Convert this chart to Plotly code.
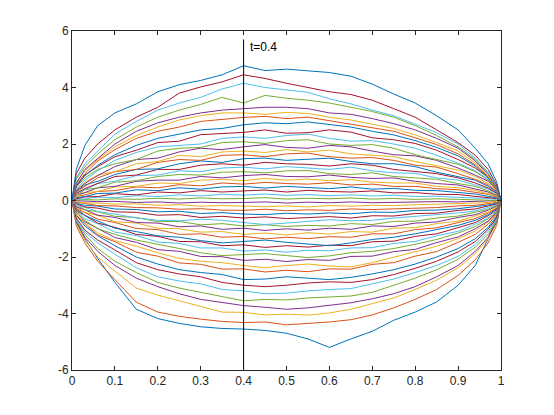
import plotly.graph_objects as go

# time grid shared by all paths
t = [0, 0.01, 0.03, 0.06, 0.1, 0.15, 0.2, 0.25, 0.3, 0.35, 0.4, 0.45, 0.5,
     0.55, 0.6, 0.65, 0.7, 0.75, 0.8, 0.85, 0.9, 0.94, 0.97, 0.99, 1]

# paths, bottom (p01) to top (p50)
p01 = [0, -0.7, -1.35, -2.05, -2.9, -3.85, -4.18, -4.35, -4.47, -4.53, -4.55, -4.6, -4.7, -4.9, -5.2, -4.9, -4.63, -4.24, -3.95, -3.59, -3.0, -2.3, -1.35, -0.6, 0]
p02 = [0, -0.9, -1.5, -2.15, -2.8, -3.6, -3.95, -4.1, -4.2, -4.28, -4.32, -4.3, -4.4, -4.36, -4.3, -4.22, -4.05, -3.8, -3.5, -3.15, -2.65, -2.1, -1.5, -0.88, 0]
p03 = [0, -0.85, -1.4, -2.0, -2.5, -3.1, -3.35, -3.55, -3.75, -3.95, -3.96, -4.05, -4.02, -4.06, -3.98, -3.85, -3.65, -3.45, -3.15, -2.82, -2.38, -1.88, -1.35, -0.8, 0]
p04 = [0, -0.78, -1.3, -1.8, -2.3, -2.75, -3.05, -3.3, -3.5, -3.62, -3.72, -3.78, -3.85, -3.8, -3.7, -3.62, -3.48, -3.3, -3.05, -2.7, -2.3, -1.8, -1.3, -0.76, 0]
p05 = [0, -0.72, -1.2, -1.7, -2.15, -2.55, -2.9, -3.1, -3.25, -3.4, -3.55, -3.5, -3.52, -3.45, -3.42, -3.38, -3.25, -3.0, -2.75, -2.45, -2.08, -1.65, -1.2, -0.7, 0]
p06 = [0, -0.68, -1.12, -1.5, -1.9, -2.38, -2.7, -2.85, -2.95, -3.15, -3.2, -3.3, -3.28, -3.2, -3.15, -3.12, -2.95, -2.78, -2.55, -2.3, -1.98, -1.55, -1.1, -0.64, 0]
p07 = [0, -0.62, -1.05, -1.4, -1.75, -2.2, -2.45, -2.6, -2.7, -2.9, -3.0, -3.05, -3.0, -2.92, -2.88, -2.9, -2.8, -2.62, -2.4, -2.15, -1.82, -1.45, -1.02, -0.6, 0]
p08 = [0, -0.53, -0.9, -1.25, -1.6, -2.0, -2.25, -2.45, -2.55, -2.62, -2.8, -2.78, -2.7, -2.75, -2.8, -2.72, -2.6, -2.45, -2.25, -2.0, -1.7, -1.35, -0.95, -0.55, 0]
p09 = [0, -0.52, -0.82, -1.22, -1.46, -1.83, -1.97, -2.21, -2.26, -2.43, -2.42, -2.53, -2.47, -2.52, -2.42, -2.43, -2.26, -2.2, -1.97, -1.81, -1.48, -1.2, -0.84, -0.49, 0]
p10 = [0, -0.48, -0.8, -1.15, -1.42, -1.62, -1.85, -2.05, -2.15, -2.2, -2.3, -2.38, -2.3, -2.25, -2.32, -2.35, -2.2, -2.0, -1.82, -1.62, -1.35, -1.08, -0.76, -0.45, 0]
p11 = [0, -0.4, -0.75, -0.98, -1.31, -1.48, -1.74, -1.8, -1.98, -1.99, -2.12, -2.08, -2.16, -2.09, -2.12, -1.98, -1.97, -1.81, -1.73, -1.49, -1.29, -1.0, -0.73, -0.41, 0]
p12 = [0, -0.41, -0.7, -1.0, -1.2, -1.4, -1.55, -1.7, -1.85, -1.95, -1.92, -1.88, -1.95, -2.02, -1.96, -1.85, -1.8, -1.7, -1.55, -1.38, -1.15, -0.92, -0.65, -0.38, 0]
p13 = [0, -0.34, -0.64, -0.82, -1.12, -1.24, -1.47, -1.52, -1.68, -1.68, -1.79, -1.75, -1.83, -1.76, -1.78, -1.68, -1.67, -1.52, -1.45, -1.25, -1.09, -0.84, -0.62, -0.35, 0]
p14 = [0, -0.35, -0.53, -0.8, -0.95, -1.2, -1.27, -1.45, -1.46, -1.6, -1.57, -1.66, -1.6, -1.65, -1.58, -1.6, -1.46, -1.44, -1.27, -1.18, -0.96, -0.78, -0.54, -0.32, 0]
p15 = [0, -0.28, -0.53, -0.72, -0.98, -1.1, -1.25, -1.3, -1.42, -1.5, -1.45, -1.4, -1.48, -1.55, -1.6, -1.5, -1.38, -1.3, -1.18, -1.03, -0.88, -0.7, -0.5, -0.29, 0]
p16 = [0, -0.29, -0.43, -0.66, -0.78, -0.99, -1.03, -1.2, -1.18, -1.3, -1.27, -1.36, -1.3, -1.35, -1.28, -1.3, -1.18, -1.18, -1.03, -0.97, -0.78, -0.64, -0.44, -0.27, 0]
p17 = [0, -0.22, -0.42, -0.53, -0.75, -0.8, -0.98, -1.0, -1.12, -1.1, -1.2, -1.15, -1.22, -1.14, -1.19, -1.1, -1.12, -0.98, -0.96, -0.82, -0.73, -0.55, -0.41, -0.23, 0]
p18 = [0, -0.23, -0.33, -0.52, -0.6, -0.78, -0.8, -0.93, -0.9, -1.02, -0.98, -1.06, -1.0, -1.05, -0.98, -1.02, -0.9, -0.92, -0.8, -0.76, -0.6, -0.5, -0.34, -0.2, 0]
p19 = [0, -0.16, -0.33, -0.4, -0.56, -0.6, -0.75, -0.74, -0.86, -0.82, -0.9, -0.86, -0.92, -0.88, -0.9, -0.82, -0.85, -0.74, -0.73, -0.62, -0.55, -0.41, -0.31, -0.17, 0]
p20 = [0, -0.17, -0.24, -0.39, -0.48, -0.62, -0.7, -0.72, -0.66, -0.7, -0.78, -0.85, -0.8, -0.74, -0.68, -0.72, -0.7, -0.62, -0.57, -0.5, -0.44, -0.37, -0.25, -0.15, 0]
p21 = [0, -0.11, -0.23, -0.27, -0.4, -0.42, -0.52, -0.5, -0.6, -0.56, -0.62, -0.58, -0.64, -0.6, -0.57, -0.62, -0.54, -0.55, -0.46, -0.45, -0.35, -0.3, -0.2, -0.12, 0]
p22 = [0, -0.1, -0.17, -0.2, -0.3, -0.32, -0.4, -0.38, -0.46, -0.43, -0.48, -0.5, -0.45, -0.48, -0.44, -0.47, -0.41, -0.42, -0.35, -0.34, -0.29, -0.21, -0.16, -0.09, 0]
p23 = [0, -0.07, -0.1, -0.18, -0.19, -0.25, -0.26, -0.31, -0.29, -0.34, -0.35, -0.31, -0.36, -0.33, -0.35, -0.3, -0.32, -0.29, -0.26, -0.25, -0.19, -0.17, -0.11, -0.07, 0]
p24 = [0, -0.04, -0.08, -0.09, -0.13, -0.12, -0.17, -0.15, -0.2, -0.18, -0.2, -0.22, -0.19, -0.23, -0.18, -0.2, -0.17, -0.18, -0.15, -0.13, -0.13, -0.09, -0.07, -0.04, 0]
p25 = [0, -0.01, -0.03, -0.04, -0.03, -0.07, -0.05, -0.09, -0.06, -0.08, -0.07, -0.05, -0.09, -0.06, -0.08, -0.05, -0.08, -0.06, -0.05, -0.04, -0.05, -0.03, -0.02, -0.01, 0]
p26 = [0, 0.02, 0.03, 0.02, 0.06, 0.04, 0.08, 0.05, 0.09, 0.06, 0.07, 0.1, 0.05, 0.08, 0.06, 0.09, 0.05, 0.07, 0.04, 0.06, 0.04, 0.03, 0.02, 0.01, 0]
p27 = [0, 0.05, 0.06, 0.12, 0.1, 0.17, 0.14, 0.2, 0.16, 0.22, 0.19, 0.23, 0.18, 0.21, 0.17, 0.2, 0.16, 0.19, 0.14, 0.15, 0.11, 0.1, 0.07, 0.04, 0]
p28 = [0, 0.06, 0.13, 0.14, 0.24, 0.2, 0.3, 0.27, 0.35, 0.3, 0.34, 0.37, 0.3, 0.36, 0.32, 0.3, 0.34, 0.27, 0.28, 0.22, 0.21, 0.15, 0.12, 0.07, 0]
p29 = [0, 0.1, 0.14, 0.25, 0.26, 0.38, 0.35, 0.45, 0.4, 0.48, 0.5, 0.44, 0.5, 0.45, 0.42, 0.48, 0.4, 0.43, 0.36, 0.35, 0.27, 0.23, 0.15, 0.09, 0]
p30 = [0, 0.14, 0.2, 0.32, 0.35, 0.48, 0.45, 0.56, 0.52, 0.62, 0.58, 0.64, 0.6, 0.58, 0.63, 0.55, 0.58, 0.5, 0.5, 0.42, 0.38, 0.28, 0.22, 0.12, 0]
p31 = [0, 0.13, 0.28, 0.32, 0.48, 0.5, 0.62, 0.6, 0.72, 0.75, 0.7, 0.78, 0.72, 0.76, 0.7, 0.74, 0.65, 0.62, 0.62, 0.5, 0.45, 0.36, 0.24, 0.14, 0]
p32 = [0, 0.2, 0.28, 0.45, 0.5, 0.68, 0.72, 0.72, 0.85, 0.8, 0.88, 0.92, 0.85, 0.84, 0.9, 0.82, 0.78, 0.8, 0.68, 0.6, 0.55, 0.4, 0.3, 0.17, 0]
p33 = [0, 0.18, 0.38, 0.45, 0.65, 0.7, 0.85, 0.92, 0.9, 1.0, 1.02, 0.98, 1.05, 1.06, 0.95, 0.92, 0.98, 0.85, 0.8, 0.75, 0.6, 0.5, 0.34, 0.2, 0]
p34 = [0, 0.26, 0.38, 0.6, 0.68, 0.88, 0.9, 1.05, 1.02, 1.15, 1.18, 1.12, 1.2, 1.15, 1.1, 1.18, 1.05, 0.98, 0.96, 0.8, 0.72, 0.55, 0.4, 0.24, 0]
p35 = [0, 0.25, 0.42, 0.6, 0.85, 0.9, 1.1, 1.1, 1.25, 1.3, 1.25, 1.35, 1.3, 1.28, 1.22, 1.3, 1.25, 1.1, 1.02, 0.95, 0.8, 0.62, 0.44, 0.26, 0]
p36 = [0, 0.32, 0.55, 0.68, 0.92, 1.1, 1.12, 1.3, 1.4, 1.35, 1.48, 1.5, 1.42, 1.45, 1.5, 1.38, 1.3, 1.3, 1.2, 1.0, 0.85, 0.72, 0.5, 0.3, 0]
p37 = [0, 0.3, 0.5, 0.8, 1.02, 1.1, 1.35, 1.45, 1.42, 1.6, 1.62, 1.55, 1.65, 1.68, 1.55, 1.5, 1.52, 1.42, 1.25, 1.18, 0.95, 0.75, 0.55, 0.32, 0]
p38 = [0, 0.38, 0.65, 0.9, 1.02, 1.3, 1.38, 1.6, 1.55, 1.72, 1.75, 1.7, 1.8, 1.72, 1.78, 1.65, 1.6, 1.55, 1.38, 1.22, 1.08, 0.85, 0.6, 0.36, 0]
p39 = [0, 0.35, 0.6, 0.88, 1.2, 1.45, 1.5, 1.72, 1.85, 1.8, 1.9, 1.98, 1.88, 1.85, 1.95, 1.9, 1.75, 1.62, 1.58, 1.42, 1.15, 0.9, 0.68, 0.38, 0]
p40 = [0, 0.48, 0.8, 1.1, 1.3, 1.45, 1.75, 1.85, 1.88, 2.05, 2.08, 2.02, 2.12, 2.15, 2.0, 1.95, 1.98, 1.85, 1.62, 1.45, 1.28, 1.02, 0.72, 0.4, 0]
p41 = [0, 0.4, 0.72, 1.05, 1.42, 1.7, 1.9, 1.95, 2.0, 2.2, 2.25, 2.2, 2.3, 2.35, 2.2, 2.1, 2.12, 2.0, 1.85, 1.6, 1.32, 1.05, 0.75, 0.45, 0]
p42 = [0, 0.52, 0.9, 1.2, 1.55, 1.78, 2.05, 2.1, 2.33, 2.36, 2.41, 2.5, 2.38, 2.4, 2.5, 2.42, 2.22, 2.15, 2.02, 1.78, 1.45, 1.15, 0.82, 0.48, 0]
p43 = [0, 0.5, 0.88, 1.25, 1.62, 1.95, 2.2, 2.35, 2.5, 2.55, 2.68, 2.75, 2.72, 2.78, 2.7, 2.6, 2.45, 2.32, 2.12, 1.88, 1.58, 1.22, 0.8, 0.4, 0]
p44 = [0, 0.55, 0.95, 1.4, 1.8, 2.2, 2.45, 2.6, 2.8, 2.88, 2.94, 2.98, 2.9, 2.95, 2.82, 2.7, 2.58, 2.45, 2.22, 1.98, 1.65, 1.26, 0.84, 0.42, 0]
p45 = [0, 0.65, 1.05, 1.45, 1.9, 2.3, 2.6, 2.85, 3.0, 3.1, 3.1, 3.05, 3.12, 3.08, 2.95, 2.85, 2.7, 2.55, 2.32, 2.05, 1.75, 1.33, 0.86, 0.42, 0]
p46 = [0, 0.6, 1.1, 1.5, 2.0, 2.45, 2.75, 2.95, 3.1, 3.2, 3.25, 3.3, 3.3, 3.25, 3.1, 3.05, 2.9, 2.72, 2.5, 2.2, 1.85, 1.4, 0.92, 0.45, 0]
p47 = [0, 0.75, 1.2, 1.65, 2.15, 2.6, 2.95, 3.2, 3.4, 3.65, 3.45, 3.72, 3.62, 3.55, 3.45, 3.3, 3.15, 2.95, 2.65, 2.3, 1.9, 1.45, 0.95, 0.5, 0]
p48 = [0, 0.8, 1.3, 1.75, 2.35, 2.8, 3.2, 3.45, 3.65, 3.95, 4.15, 4.0, 3.92, 3.83, 3.6, 3.42, 3.2, 3.0, 2.7, 2.4, 2.0, 1.5, 1.0, 0.5, 0]
p49 = [0, 0.95, 1.5, 2.0, 2.5, 2.95, 3.3, 3.8, 4.02, 4.2, 4.45, 4.32, 4.15, 4.0, 3.85, 3.75, 3.55, 3.25, 2.95, 2.5, 2.05, 1.6, 1.1, 0.55, 0]
p50 = [0, 1.1, 1.95, 2.65, 3.1, 3.42, 3.85, 4.1, 4.25, 4.45, 4.77, 4.6, 4.65, 4.6, 4.53, 4.4, 4.12, 3.77, 3.45, 3.0, 2.5, 1.85, 1.3, 0.65, 0]

paths = [p01, p02, p03, p04, p05, p06, p07, p08, p09, p10,
         p11, p12, p13, p14, p15, p16, p17, p18, p19, p20,
         p21, p22, p23, p24, p25, p26, p27, p28, p29, p30,
         p31, p32, p33, p34, p35, p36, p37, p38, p39, p40,
         p41, p42, p43, p44, p45, p46, p47, p48, p49, p50]

# marker line at t=0.4
vline_x = [0.4, 0.4]
vline_y = [-6, 5.7]

x_ticks = [0, 0.1, 0.2, 0.3, 0.4, 0.5, 0.6, 0.7, 0.8, 0.9, 1]
y_ticks = [-6, -4, -2, 0, 2, 4, 6]

# octave default colour order
colors = ["#0072BD", "#D95319", "#EDB120", "#7E2F8E",
          "#77AC30", "#4DBEEE", "#A2142F"]

fig = go.Figure()

for i, p in enumerate(paths):
    fig.add_trace(go.Scatter(
        x=t, y=p, mode="lines",
        line=dict(color=colors[i % 7], width=1),
        showlegend=False, hoverinfo="skip",
    ))

fig.add_trace(go.Scatter(
    x=vline_x, y=vline_y, mode="lines",
    line=dict(color="#000000", width=1),
    showlegend=False, hoverinfo="skip",
))

fig.add_annotation(
    x=0.41, y=5.45, text="t=0.4", showarrow=False,
    xanchor="left", yanchor="middle",
    font=dict(size=12, color="#000000", family="Liberation Sans"),
)

axis_style = dict(
    showgrid=False, zeroline=False,
    showline=True, linecolor="#262626", linewidth=1,
    mirror="ticks", ticks="inside", ticklen=4,
    tickcolor="#262626", tickwidth=1,
    tickfont=dict(size=12, color="#262626", family="Liberation Sans"),
)

fig.update_xaxes(range=[0, 1], tickvals=x_ticks,
                 ticktext=[f"{v:g}" for v in x_ticks], **axis_style)
fig.update_yaxes(range=[-6, 6], tickvals=y_ticks,
                 ticktext=[f"{v:g}" for v in y_ticks], **axis_style)

# page body adds an 8px offset, so margins are shifted to match
fig.update_layout(
    width=554, height=415,
    margin=dict(l=64, r=61, t=23, b=53),
    plot_bgcolor="white", paper_bgcolor="white",
)

fig.write_html("out.html")
